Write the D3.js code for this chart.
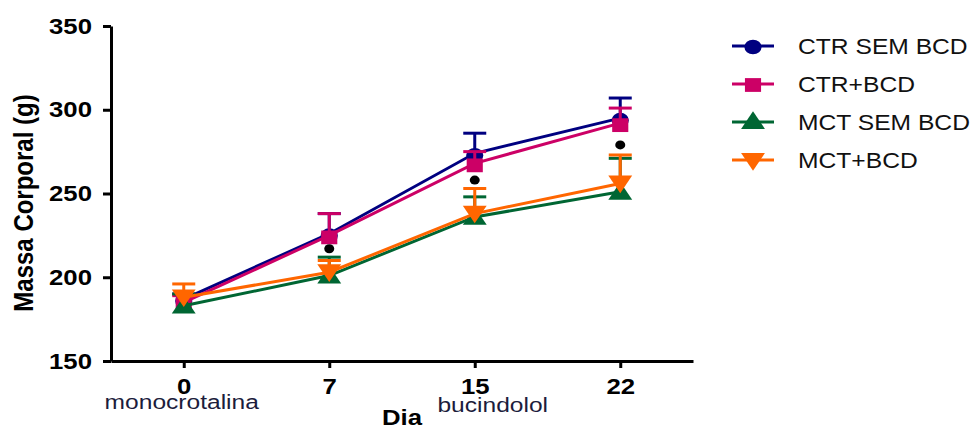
<!DOCTYPE html>
<html>
<head>
<meta charset="utf-8">
<script src="https://cdn.jsdelivr.net/npm/d3@7"></script>
<style>
  body { margin: 0; background: #fff; }
  text { font-family: Arial, 'Liberation Sans', sans-serif; }
</style>
</head>
<body>
<script>
// data
const days = ['0', '7', '15', '22']
const dayNotes = ['monocrotalina', '', 'bucindolol', '']
const seriesNames = ['CTR SEM BCD', 'CTR+BCD', 'MCT SEM BCD', 'MCT+BCD']
const ctrSem = [187, 226, 274, 295]
const ctrSemErr = [3, 12, 12, 12]
const ctrBcd = [185, 225, 268, 292]
const ctrBcdErr = [4, 13, 7, 9]
const mctSem = [183, 201, 236, 251]
const mctSemErr = [7, 11, 12, 20]
const mctBcd = [188, 203, 238, 256]
const mctBcdErr = [8, 7, 15, 17]
const sigDays = ['7', '15', '22']
const sigValues = [217, 258, 279]
const yTicks = [150, 200, 250, 300, 350]

const width = 977
const height = 427
const plotLeft = 111, plotRight = 693, plotTop = 26, plotBottom = 361
// the source picture is stretched sideways, so the text is too
const stretch = 'scale(1.17,1)'

const svg = d3.select('body').append('svg')
  .attr('width', width)
  .attr('height', height)

const x = d3.scalePoint().domain(days).range([plotLeft, plotRight]).padding(0.5)
const y = d3.scaleLinear().domain([150, 350]).range([plotBottom, plotTop])

const series = [
  { name: seriesNames[0], values: ctrSem, err: ctrSemErr, color: '#000080', symbol: d3.symbolCircle, size: 170, rot: 0 },
  { name: seriesNames[1], values: ctrBcd, err: ctrBcdErr, color: '#cc0066', symbol: d3.symbolSquare, size: 190, rot: 0 },
  { name: seriesNames[2], values: mctSem, err: mctSemErr, color: '#006633', symbol: d3.symbolTriangle, size: 180, rot: 0 },
  { name: seriesNames[3], values: mctBcd, err: mctBcdErr, color: '#ff6600', symbol: d3.symbolTriangle, size: 180, rot: 180 }
]

// axes
const yAxis = svg.append('g')
  .attr('class', 'axis')
  .attr('transform', 'translate(' + plotLeft + ',0)')
  .call(d3.axisLeft(y).tickValues(yTicks).tickSize(8).tickPadding(4).tickSizeOuter(0))
const xAxis = svg.append('g')
  .attr('class', 'axis')
  .attr('transform', 'translate(0,' + plotBottom + ')')
  .call(d3.axisBottom(x).tickSize(7).tickPadding(10).tickSizeOuter(0))

svg.selectAll('.axis path, .axis line')
  .style('stroke', '#000')
  .style('stroke-width', 3)
svg.selectAll('.axis text')
  .style('fill', '#000')
  .style('font-weight', 'bold')
  .style('font-size', '22px')
  .style('font-family', 'Arial, "Liberation Sans", sans-serif')
yAxis.selectAll('text')
  .attr('x', 0)
  .attr('transform', 'translate(-19,0) ' + stretch)
xAxis.selectAll('text')
  .attr('transform', stretch)

// extra labels under the day ticks
svg.selectAll('text.note')
  .data(days.filter((d, i) => dayNotes[i]))
  .enter().append('text')
  .attr('class', 'note')
  .attr('transform', d => 'translate(' + (x(d) + (d === '15' ? 18 : -2)) + ',' + (d === '15' ? 412 : 409) + ') ' + stretch)
  .attr('text-anchor', 'middle')
  .style('font-size', '21px')
  .style('fill', '#1c1c3c')
  .text(d => dayNotes[days.indexOf(d)])

svg.append('text')
  .attr('transform', 'translate(402,425) ' + stretch)
  .attr('text-anchor', 'middle')
  .style('font-size', '22px')
  .style('font-weight', 'bold')
  .text('Dia')

svg.append('text')
  .attr('transform', 'translate(33,203) ' + stretch + ' rotate(-90)')
  .attr('text-anchor', 'middle')
  .style('font-size', '24px')
  .style('font-weight', 'bold')
  .text('Massa Corporal (g)')

const line = d3.line()
  .x((d, i) => x(days[i]))
  .y(d => y(d))

// lines, error bars and markers per series
series.forEach(s => {
  const g = svg.append('g')
  g.append('path')
    .attr('d', line(s.values))
    .style('fill', 'none')
    .style('stroke', s.color)
    .style('stroke-width', 3)
  const bars = g.selectAll('g.err')
    .data(s.values.map((v, i) => ({ day: days[i], v: v, e: s.err[i] })))
    .enter().append('g')
  bars.append('line')
    .attr('x1', d => x(d.day)).attr('x2', d => x(d.day))
    .attr('y1', d => y(d.v)).attr('y2', d => y(d.v + d.e))
    .style('stroke', s.color).style('stroke-width', 3)
  bars.append('line')
    .attr('x1', d => x(d.day) - 11.5).attr('x2', d => x(d.day) + 11.5)
    .attr('y1', d => y(d.v + d.e)).attr('y2', d => y(d.v + d.e))
    .style('stroke', s.color).style('stroke-width', 3)
  g.selectAll('path.mark')
    .data(s.values)
    .enter().append('path')
    .attr('class', 'mark')
    .attr('d', d3.symbol().type(s.symbol).size(s.size))
    .attr('transform', (d, i) => 'translate(' + x(days[i]) + ',' + (y(d) + (s.rot ? -2 : 2)) + ') ' + stretch + ' rotate(' + s.rot + ')')
    .style('fill', s.color)
})

// significance markers
svg.selectAll('ellipse.sig')
  .data(sigValues)
  .enter().append('ellipse')
  .attr('class', 'sig')
  .attr('cx', (d, i) => x(sigDays[i]))
  .attr('cy', d => y(d))
  .attr('rx', 5)
  .attr('ry', 4.5)
  .style('fill', '#000')

// legend
const legend = svg.selectAll('g.legend')
  .data(series)
  .enter().append('g')
  .attr('class', 'legend')
  .attr('transform', (d, i) => 'translate(732,' + (46 + i * 38) + ')')
legend.append('line')
  .attr('x1', 0).attr('x2', 42)
  .style('stroke', d => d.color)
  .style('stroke-width', 3)
legend.append('path')
  .attr('d', d => d3.symbol().type(d.symbol).size(d.size)())
  .attr('transform', d => 'translate(21,' + (d.rot ? -1 : 1) + ') ' + stretch + ' rotate(' + d.rot + ')')
  .style('fill', d => d.color)
legend.append('text')
  .attr('transform', 'translate(66,8) scale(1.12,1)')
  .style('font-size', '22px')
  .style('fill', '#111')
  .text(d => d.name)
</script>
</body>
</html>
